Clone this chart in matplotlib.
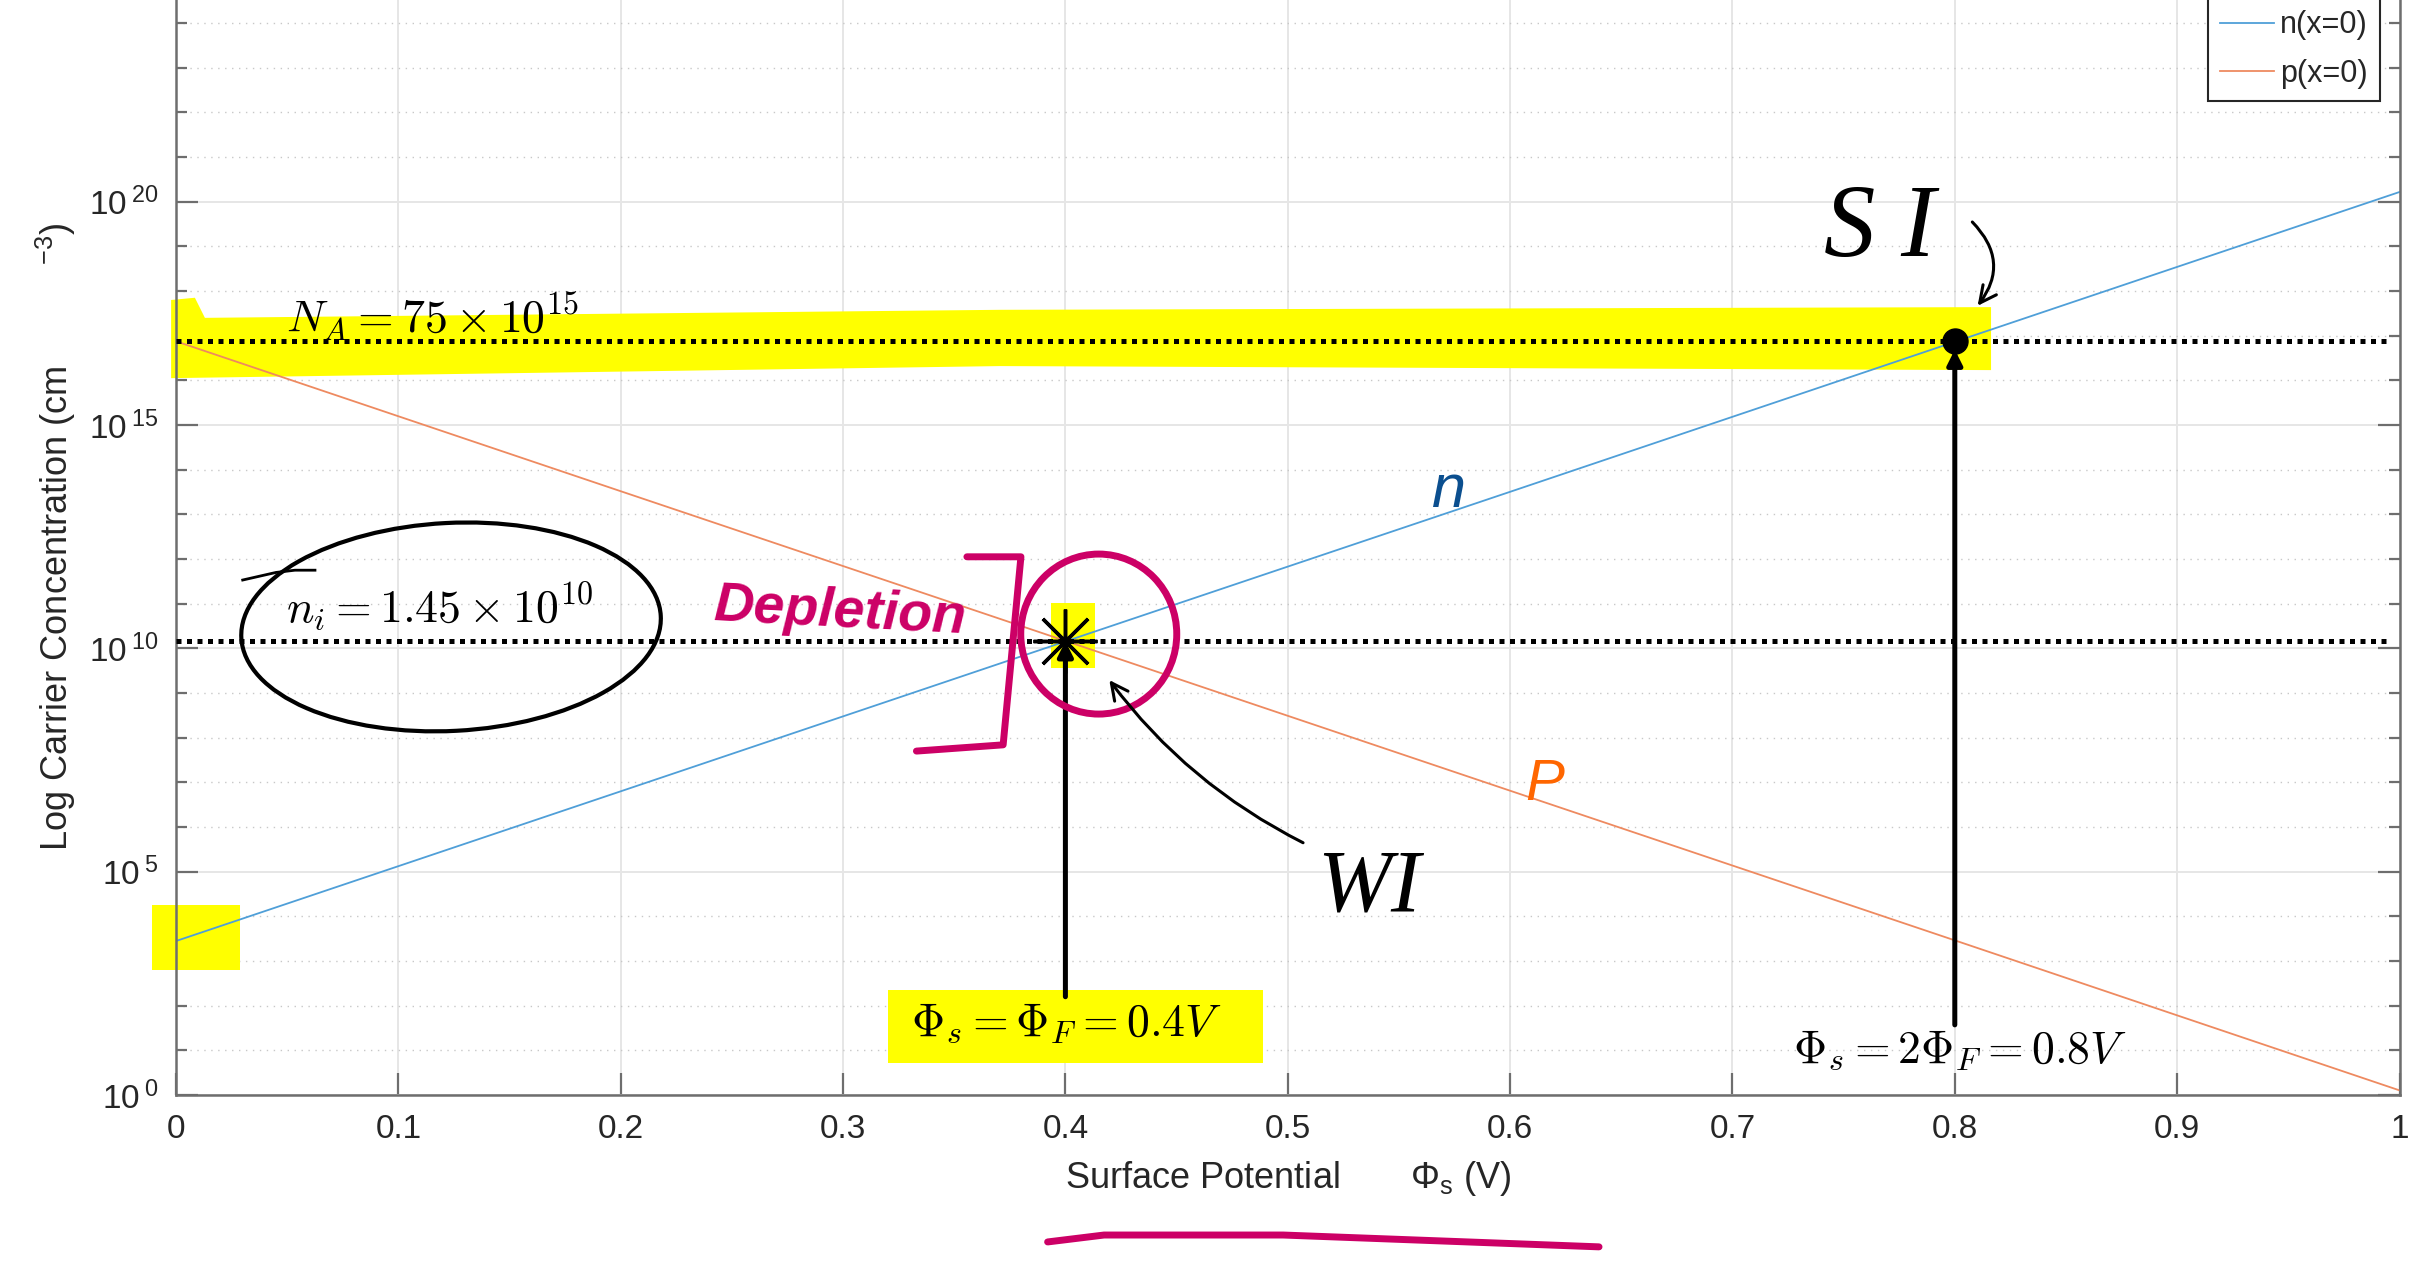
import numpy as np
import matplotlib
matplotlib.use("Agg")
import matplotlib.pyplot as plt
import matplotlib.transforms as mtransforms
from matplotlib.patches import Ellipse, Polygon, FancyArrowPatch
from matplotlib.ticker import FixedLocator, FixedFormatter, NullLocator

plt.rcParams['font.family'] = ['Liberation Sans', 'DejaVu Sans']
plt.rcParams['mathtext.fontset'] = 'custom'
plt.rcParams['mathtext.rm'] = 'Liberation Sans'
plt.rcParams['mathtext.it'] = 'Liberation Sans:italic'

# surface potential sweep (V) and electron / hole densities at the surface (cm^-3)
phi_s = [0.0, 0.2, 0.4, 0.6, 0.8, 1.0]
n_surface = [2.8e3, 6.3e6, 1.43e10, 3.2e13, 7.3e16, 1.65e20]
p_surface = [7.5e16, 3.3e13, 1.47e10, 6.5e6, 2.9e3, 1.27]
series_labels = ['n(x=0)', 'p(x=0)']

N_A = 75e15
n_i = 1.45e10
phi_wi = 0.4   # phi_s = phi_F
phi_si = 0.8   # phi_s = 2 phi_F

x_ticks = [0, 0.1, 0.2, 0.3, 0.4, 0.5, 0.6, 0.7, 0.8, 0.9, 1.0]
x_tick_labels = ['0', '0.1', '0.2', '0.3', '0.4', '0.5', '0.6', '0.7', '0.8', '0.9', '1']
y_decades = [0, 5, 10, 15, 20, 25]

INK = '#262626'
MAGENTA = '#CC0066'
YELLOW = '#FFFF00'

W, H = 2433, 1285
fig = plt.figure(figsize=(W / 100, H / 100), dpi=100)
ax = fig.add_axes([176 / W, 190 / H, 2223.5 / W, 1116.6 / H])
ax.set_yscale('log')
ax.set_xlim(0, 1)
ax.set_ylim(1, 1e25)

# ticks, grid, box
ax.set_xticks(x_ticks, labels=x_tick_labels)
ax.xaxis.set_minor_locator(NullLocator())
ax.yaxis.set_major_locator(FixedLocator([10.0 ** d for d in y_decades]))
ax.yaxis.set_major_formatter(FixedFormatter([r'$\mathregular{10\,^{%d}}$' % d for d in y_decades]))
ax.yaxis.set_minor_locator(FixedLocator([10.0 ** k for k in range(26) if k % 5]))
ax.yaxis.set_minor_formatter(FixedFormatter([]))
ax.tick_params(which='both', direction='in', right=True, top=True, color='#6e6e6e',
               labelcolor=INK, width=1.6, labelsize=24)
ax.tick_params(which='major', length=16)
ax.tick_params(which='minor', length=8)
ax.tick_params(axis='x', pad=14)
ax.tick_params(axis='y', pad=13)
for s in ax.spines.values():
    s.set_color('#6e6e6e')
    s.set_linewidth(1.8)
ax.set_axisbelow(True)
ax.grid(which='major', color='#e6e6e6', lw=1.4, ls='-')
ax.grid(which='minor', axis='y', color='#c8c8c8', lw=1.0, ls=(0, (1, 4)))

ax.set_xlabel(r'Surface Potential       $\Phi_{\mathregular{s}}$ (V)', fontsize=26, color=INK, labelpad=10)
ax.set_ylabel(r'Log Carrier Concentration (cm          $^{-3}$)', fontsize=26, color=INK, labelpad=8)


def box(x0, x1, lg0, lg1):
    return [(x0, 10 ** lg0), (x1, 10 ** lg0), (x1, 10 ** lg1), (x0, 10 ** lg1)]


def at_px(x, y):
    # inch-sized shapes centred on a data point
    return fig.dpi_scale_trans + mtransforms.ScaledTranslation(x, y, ax.transData)


# highlighter strokes
band_x = [-0.0022, 0.0085, 0.013, 0.3706, 0.8163, 0.8163, 0.3706, -0.0022]
band_lg = [17.80, 17.85, 17.40, 17.58, 17.64, 16.23, 16.32, 16.05]
ax.add_patch(Polygon(list(zip(band_x, 10.0 ** np.array(band_lg))), fc=YELLOW, ec='none',
                     clip_on=False, zorder=1))
for b in [box(-0.0108, 0.0288, 2.80, 4.25), box(0.320, 0.489, 0.72, 2.35), box(0.3935, 0.4133, 9.56, 11.02)]:
    ax.add_patch(Polygon(b, fc=YELLOW, ec='none', clip_on=False, zorder=1))

# carrier densities
ax.plot(phi_s, n_surface, color='#4F9FD8', lw=1.3, label=series_labels[0], zorder=2)
ax.plot(phi_s, p_surface, color='#EE8A60', lw=1.3, label=series_labels[1], zorder=2)

# doping and intrinsic levels
for lvl in (N_A, n_i):
    ax.plot([0, 0.996], [lvl, lvl], color='k', lw=3.6, ls=(0, (1, 1.1)),
            dash_capstyle='butt', zorder=3)

ax.text(0.0495, 10 ** 17.08, r'$N_A = 75\times 10^{15}$', fontsize=33, math_fontfamily='cm', zorder=4)
ax.text(0.0495, 10 ** 10.57, r'$n_i = 1.45\times 10^{10}$', fontsize=33, math_fontfamily='cm', zorder=4)
ax.text(0.3306, 10 ** 1.32, r'$\Phi_s = \Phi_F = 0.4V$', fontsize=33, math_fontfamily='cm', zorder=4)
ax.text(0.7272, 10 ** 0.72, r'$\Phi_s = 2\Phi_F = 0.8V$', fontsize=33, math_fontfamily='cm', zorder=4)

# weak / strong inversion points
ax.annotate('', xy=(phi_wi, n_i), xytext=(phi_wi, 10 ** 2.2),
            arrowprops=dict(arrowstyle='-|>', color='k', lw=3.6, mutation_scale=22,
                            shrinkA=0, shrinkB=0), zorder=4)
ax.annotate('', xy=(phi_si, N_A), xytext=(phi_si, 10 ** 1.57),
            arrowprops=dict(arrowstyle='-|>', color='k', lw=3.6, mutation_scale=22,
                            shrinkA=0, shrinkB=6), zorder=4)
ax.plot(phi_wi, n_i, marker=(8, 2, 0), ms=46, mew=2.5, color='k', zorder=5)
ax.plot(phi_si, N_A, 'o', ms=18, color='k', zorder=5)

# pen notes
ax.add_patch(Ellipse((0, 0), 4.20, 2.08, angle=3, transform=at_px(0.1237, 10 ** 10.48),
                     fill=False, ec='k', lw=3, zorder=4))
ax.plot([0.030, 0.045, 0.0535, 0.0625], 10.0 ** np.array([11.53, 11.70, 11.75, 11.75]),
        color='k', lw=2, zorder=4)
ax.add_patch(Ellipse((0, 0), 1.56, 1.60, transform=at_px(0.415, 10 ** 10.32),
                     fill=False, ec=MAGENTA, lw=5, zorder=4))
ax.plot([0.3557, 0.380, 0.372, 0.333], 10.0 ** np.array([12.05, 12.05, 7.84, 7.70]),
        color=MAGENTA, lw=5, solid_capstyle='round', solid_joinstyle='round', zorder=4)
ax.text(0.241, 10 ** 10.34, 'Depletion', color=MAGENTA, fontsize=40, fontstyle='italic',
        fontweight='bold', rotation=-3, zorder=4)
ax.plot([0.392, 0.4174, 0.4979, 0.640], 10.0 ** np.array([-3.29, -3.135, -3.135, -3.40]),
        color=MAGENTA, lw=5, solid_capstyle='round', clip_on=False, zorder=4)

ax.text(0.565, 10 ** 13.17, 'n', color='#0B4F8F', fontsize=44, fontstyle='italic', zorder=4)
ax.text(0.607, 10 ** 6.6, 'P', color='#FF6600', fontsize=42, fontstyle='italic', zorder=4)
ax.text(0.5365, 10 ** 4.12, 'WI', family='Liberation Serif', fontstyle='italic', fontsize=64,
        ha='center', zorder=4)
ax.text(0.7664, 10 ** 18.78, 'S I', family='Liberation Serif', fontstyle='italic', fontsize=74,
        ha='center', zorder=4)
ax.add_patch(FancyArrowPatch((0.508, 10 ** 5.62), (0.419, 10 ** 9.34), connectionstyle='arc3,rad=-0.12',
                             arrowstyle='->', mutation_scale=30, lw=2.2, color='k', zorder=4))
ax.add_patch(FancyArrowPatch((0.807, 10 ** 19.59), (0.8095, 10 ** 17.62), connectionstyle='arc3,rad=-0.45',
                             arrowstyle='->', mutation_scale=30, lw=2.2, color='k', zorder=4))

leg = ax.legend(loc='upper right', bbox_to_anchor=(2380 / W, 1 + 2 / H), bbox_transform=fig.transFigure,
                borderaxespad=0, fontsize=22, handlelength=1.75, handletextpad=0.2, labelspacing=0.62,
                borderpad=0.4, fancybox=False, framealpha=1, edgecolor=INK)
leg.get_frame().set_linewidth(1.5)
for t in leg.get_texts():
    t.set_color(INK)

fig.savefig('out.png', dpi=100)
